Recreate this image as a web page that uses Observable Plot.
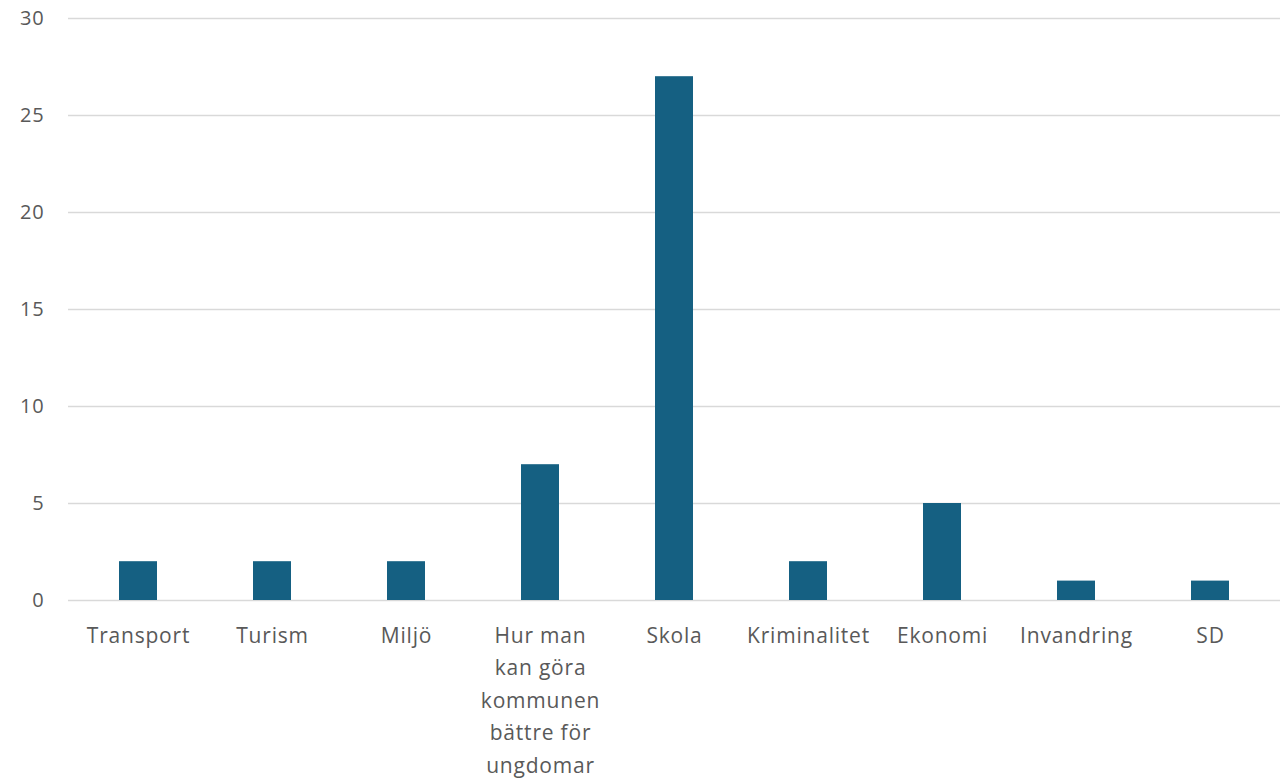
<!DOCTYPE html>
<html>
<head>
<meta charset="utf-8">
<script src="https://cdn.jsdelivr.net/npm/d3@7"></script>
<script src="https://cdn.jsdelivr.net/npm/@observablehq/plot@0.6"></script>
<style>
  html, body { margin: 0; padding: 0; background: #fff; }
  #chart { width: 1287px; height: 779px; }
  #chart svg text { letter-spacing: 0.8px; }
</style>
</head>
<body>
<div id="chart"></div>
<script>
const categories = ["Transport", "Turism", "Miljö", "Hur man kan göra kommunen bättre för ungdomar", "Skola", "Kriminalitet", "Ekonomi", "Invandring", "SD"];
const values = [2, 2, 2, 7, 27, 2, 5, 1, 1];
const labelLines = {
  "Hur man kan göra kommunen bättre för ungdomar": "Hur man\nkan göra\nkommunen\nbättre för\nungdomar"
};
const yTicks = [0, 5, 10, 15, 20, 25, 30];

const data = categories.map((c, i) => ({category: c, value: values[i]}));

const chart = Plot.plot({
  width: 1287,
  height: 779,
  marginLeft: 68,
  marginRight: 7,
  marginTop: 18,
  marginBottom: 179,
  style: {fontFamily: "'Open Sans', sans-serif", background: "#fff"},
  x: {domain: categories, paddingInner: 0.72, paddingOuter: 0.36, label: null},
  y: {domain: [0, 30], label: null},
  marks: [
    Plot.gridY(yTicks, {stroke: "#d9d9d9", strokeOpacity: 1, strokeWidth: 1.5}),
    Plot.barY(data, {x: "category", y: "value", fill: "#156082"}),
    Plot.axisY(yTicks, {tickSize: 0, tickPadding: 24, fontSize: 20, fill: "#595959", label: null}),
    Plot.axisX({tickSize: 0, tickPadding: 19, fontSize: 21, fill: "#595959", lineHeight: 1.55, lineAnchor: "top",
      tickFormat: d => labelLines[d] || d, label: null})
  ]
});
document.getElementById("chart").appendChild(chart);
</script>
</body>
</html>
